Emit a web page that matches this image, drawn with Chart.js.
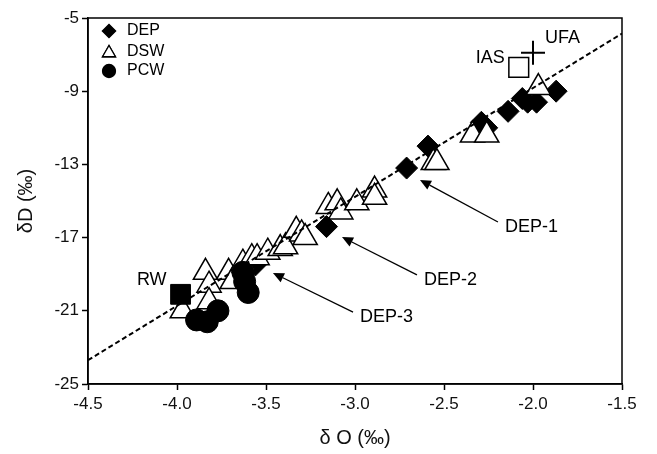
<!DOCTYPE html>
<html>
<head>
<meta charset="utf-8">
<script src="https://cdn.jsdelivr.net/npm/chart.js@4.4.0/dist/chart.umd.min.js"></script>
<style>
  html, body { margin: 0; padding: 0; background: #fff; }
  #wrap { width: 657px; height: 454px; }
</style>
</head>
<body>
<div id="wrap"><canvas id="isoChart" width="657" height="454"></canvas></div>
<script>
// isotope samples: x = δ18O, y = δD (‰)
var depO = [-1.87, -1.98, -2.03, -2.06, -2.14, -2.29, -2.26, -2.59, -2.71, -3.16, -3.56];
var depD = [-9.0, -9.6, -9.6, -9.4, -10.1, -10.7, -11.0, -12.0, -13.2, -16.4, -18.5];

var dswO = [-3.97, -3.84, -3.82, -3.82, -3.71, -3.69, -3.63, -3.58, -3.55, -3.49, -3.42, -3.39, -3.33,
            -3.30, -3.28, -3.15, -3.10, -3.08, -2.99, -2.89, -2.89, -2.56, -2.54, -2.34, -2.26, -1.97];
var dswD = [-21.0, -18.9, -19.6, -20.5, -18.9, -19.4, -18.4, -18.1, -18.1, -17.8, -17.6, -17.5, -16.6,
            -16.8, -17.0, -15.3, -15.1, -15.6, -15.1, -14.4, -14.8, -12.9, -12.9, -11.4, -11.4, -8.8];

var pcwO = [-3.89, -3.83, -3.77, -3.63, -3.62, -3.60];
var pcwD = [-21.5, -21.6, -21.0, -18.9, -19.4, -20.0];

// reference waters
var rwPt = [-3.98, -20.1];
var iasPt = [-2.08, -7.7];
var ufaPt = [-2.0, -6.9];

// fitted line ends
var fitO = [-4.5, -1.5];
var fitD = [-23.7, -5.85];

var xTicks = [-4.5, -4.0, -3.5, -3.0, -2.5, -2.0, -1.5];
var yTicks = [-25, -21, -17, -13, -9, -5];

// arrow callouts: [label, headX, headY, tailX, tailY]
var callouts = [
  ['DEP-1', -2.635, -13.85, -2.197, -16.15],
  ['DEP-2', -3.073, -16.97, -2.652, -19.04],
  ['DEP-3', -3.461, -18.93, -3.011, -21.07]
];

function pts(xs, ys) {
  return xs.map(function (x, i) { return { x: x, y: ys[i] }; });
}

var FONT = '"Liberation Sans", Arial, sans-serif';

var framePlugin = {
  id: 'frame',
  afterDraw: function (chart) {
    var ctx = chart.ctx;
    var a = chart.chartArea;
    var xs = chart.scales.x, ys = chart.scales.y;
    ctx.save();
    ctx.strokeStyle = '#000';
    ctx.lineWidth = 1.5;
    ctx.strokeRect(a.left, a.top, a.right - a.left, a.bottom - a.top);

    // legend
    var lx = a.left + 21;
    var rows = [a.top + 13, a.top + 34, a.top + 53];
    ctx.fillStyle = '#000';
    Chart.helpers.drawPoint(ctx, { pointStyle: 'rectRot', radius: 6.5, borderWidth: 1 }, lx, rows[0]);
    ctx.fill();
    ctx.fillStyle = '#fff';
    ctx.lineWidth = 1.3;
    Chart.helpers.drawPoint(ctx, { pointStyle: 'triangle', radius: 7.5, borderWidth: 1.3 }, lx, rows[1] + 1);
    ctx.fill();
    ctx.stroke();
    ctx.fillStyle = '#000';
    Chart.helpers.drawPoint(ctx, { pointStyle: 'circle', radius: 6.5, borderWidth: 1 }, lx, rows[2]);
    ctx.fill();
    ctx.font = '16px ' + FONT;
    ctx.textBaseline = 'middle';
    ctx.textAlign = 'left';
    ctx.fillText('DEP', lx + 18, rows[0]);
    ctx.fillText('DSW', lx + 18, rows[1]);
    ctx.fillText('PCW', lx + 18, rows[2]);

    // point names
    ctx.font = '18px ' + FONT;
    ctx.textAlign = 'right';
    ctx.fillText('RW', xs.getPixelForValue(rwPt[0]) - 14, ys.getPixelForValue(rwPt[1]) - 14);
    ctx.fillText('IAS', xs.getPixelForValue(iasPt[0]) - 14, ys.getPixelForValue(iasPt[1]) - 9);
    ctx.textAlign = 'left';
    ctx.fillText('UFA', xs.getPixelForValue(ufaPt[0]) + 12, ys.getPixelForValue(ufaPt[1]) - 15);

    // callout arrows
    ctx.lineWidth = 1.3;
    callouts.forEach(function (c) {
      var hx = xs.getPixelForValue(c[1]), hy = ys.getPixelForValue(c[2]);
      var tx = xs.getPixelForValue(c[3]), ty = ys.getPixelForValue(c[4]);
      var ang = Math.atan2(hy - ty, hx - tx);
      var len = 11, half = 5;
      var bx = hx - Math.cos(ang) * len, by = hy - Math.sin(ang) * len;
      ctx.beginPath();
      ctx.moveTo(tx, ty);
      ctx.lineTo(bx, by);
      ctx.stroke();
      ctx.beginPath();
      ctx.moveTo(hx, hy);
      ctx.lineTo(bx + Math.sin(ang) * half, by - Math.cos(ang) * half);
      ctx.lineTo(bx - Math.sin(ang) * half, by + Math.cos(ang) * half);
      ctx.closePath();
      ctx.fill();
      ctx.fillText(c[0], tx + 7, ty + 5);
    });
    ctx.restore();
  }
};

new Chart(document.getElementById('isoChart'), {
  type: 'scatter',
  data: {
    datasets: [
      {
        type: 'line', label: 'fit', data: pts(fitO, fitD), order: 0,
        borderColor: '#000', borderWidth: 2, borderDash: [5, 3], pointRadius: 0, fill: false
      },
      {
        label: 'RW', data: [{ x: rwPt[0], y: rwPt[1] }], order: 1,
        pointStyle: 'rect', pointRadius: 14, backgroundColor: '#000', borderColor: '#000', borderWidth: 1
      },
      {
        label: 'IAS', data: [{ x: iasPt[0], y: iasPt[1] }], order: 1,
        pointStyle: 'rect', pointRadius: 14, backgroundColor: '#fff', borderColor: '#000', borderWidth: 1.5
      },
      {
        label: 'UFA', data: [{ x: ufaPt[0], y: ufaPt[1] }], order: 1,
        pointStyle: 'cross', pointRadius: 12, borderColor: '#000', borderWidth: 2
      },
      {
        label: 'PCW', data: pts(pcwO, pcwD), order: 2,
        pointStyle: 'circle', pointRadius: 11, backgroundColor: '#000', borderColor: '#000', borderWidth: 1
      },
      {
        label: 'DSW', data: pts(dswO, dswD), order: 3,
        pointStyle: 'triangle', pointRadius: 14, backgroundColor: '#fff', borderColor: '#000', borderWidth: 1.5
      },
      {
        label: 'DEP', data: pts(depO, depD), order: 4,
        pointStyle: 'rectRot', pointRadius: 11, backgroundColor: '#000', borderColor: '#000', borderWidth: 1
      }
    ]
  },
  options: {
    responsive: false,
    animation: false,
    events: [],
    layout: { padding: { top: 18, right: 35, left: 0, bottom: 0 } },
    plugins: { legend: { display: false }, tooltip: { enabled: false } },
    scales: {
      x: {
        type: 'linear', min: -4.5, max: -1.5,
        afterBuildTicks: function (s) { s.ticks = xTicks.map(function (v) { return { value: v }; }); },
        afterFit: function (s) { s.height = 70; },
        grid: { drawOnChartArea: false, color: '#000', tickLength: 6, tickWidth: 1.5 },
        border: { display: true, color: '#000', width: 1.5 },
        ticks: {
          color: '#111', font: { family: FONT, size: 17 }, padding: 4,
          callback: function (v) { return v.toFixed(1); }
        },
        title: { display: true, text: 'δ O (‰)', color: '#111', font: { family: FONT, size: 20 }, padding: { bottom: 4 } }
      },
      y: {
        type: 'linear', min: -25, max: -5,
        afterBuildTicks: function (s) { s.ticks = yTicks.map(function (v) { return { value: v }; }); },
        afterFit: function (s) { s.width = 88; },
        grid: { drawOnChartArea: false, color: '#000', tickLength: 6, tickWidth: 1.5 },
        border: { display: true, color: '#000', width: 1.5 },
        ticks: { color: '#111', font: { family: FONT, size: 17 }, padding: 3 },
        title: { display: true, text: 'δD (‰)', color: '#111', font: { family: FONT, size: 20 }, padding: { top: 14 } }
      }
    }
  },
  plugins: [framePlugin]
});
</script>
</body>
</html>
